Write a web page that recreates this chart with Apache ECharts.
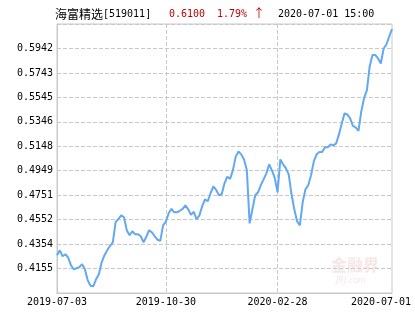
<!DOCTYPE html>
<html style="height: 100%">
<head>
    <meta charset="utf-8">
    <script type="text/javascript" src="https://cdn.jsdelivr.net/npm/echarts@6/dist/echarts.min.js"></script>
</head>
<body style="height: 100%; margin: 0; background: #fff">
<div id="container" style="width: 415px; height: 330px"></div>
<script type="text/javascript">
    var fundName = "海富精选";
    var fundCode = "[519011]";
    var lastValue = "0.6100";
    var lastChange = "1.79%";
    var lastArrow = "↑";
    var lastTime = "2020-07-01 15:00";

    // x label positions (index into navValues)
    var xLabelIndex = [0, 39, 79, 120];
    var xLabelText = ["2019-07-03", "2019-10-30", "2020-02-28", "2020-07-01"];

    // y axis: lowest tick and step as printed
    var yBase = 0.39564;
    var yStep = 0.019856;
    var yTickLabels = ["", "0.4155", "0.4354", "0.4552", "0.4751", "0.4949",
        "0.5148", "0.5346", "0.5545", "0.5743", "0.5942", ""];

    // unit net value
    var navValues = [
        0.4263, 0.4303, 0.4255, 0.4271, 0.4243, 0.4182, 0.4149, 0.4157, 0.4166, 0.4190,
        0.4149, 0.4060, 0.4016, 0.4011, 0.4068, 0.4109, 0.4206, 0.4263, 0.4303, 0.4340,
        0.4368, 0.4531, 0.4559, 0.4587, 0.4571, 0.4466, 0.4425, 0.4458, 0.4433, 0.4433,
        0.4417, 0.4368, 0.4413, 0.4466, 0.4449, 0.4417, 0.4389, 0.4380, 0.4506, 0.4536,
        0.4604, 0.4640, 0.4612, 0.4612, 0.4624, 0.4640, 0.4668, 0.4636, 0.4591, 0.4616,
        0.4555, 0.4587, 0.4660, 0.4717, 0.4701, 0.4766, 0.4823, 0.4794, 0.4750, 0.4758,
        0.4847, 0.4901, 0.4883, 0.4952, 0.5062, 0.5106, 0.5082, 0.5041, 0.4956, 0.4522,
        0.4636, 0.4750, 0.4774, 0.4831, 0.4879, 0.4928, 0.5001, 0.4952, 0.4891, 0.4774,
        0.5041, 0.5001, 0.4968, 0.4920, 0.4758, 0.4636, 0.4539, 0.4506, 0.4693, 0.4798,
        0.4831, 0.4912, 0.5025, 0.5082, 0.5102, 0.5102, 0.5139, 0.5139, 0.5163, 0.5155,
        0.5171, 0.5244, 0.5333, 0.5415, 0.5406, 0.5374, 0.5313, 0.5301, 0.5273, 0.5431,
        0.5540, 0.5601, 0.5796, 0.5889, 0.5889, 0.5861, 0.5820, 0.5942, 0.5974, 0.6039,
        0.6100
    ];

    var gridColor = "#c8c8c8";
    var monoFont = "'DejaVu Sans Mono', monospace";

    var categories = [];
    var seriesData = [];
    for (var i = 0; i < navValues.length; i++) {
        categories.push(String(i));
        seriesData.push(navValues[i] - yBase);
    }

    function isLabelIndex(index) {
        return xLabelIndex.indexOf(index) >= 0;
    }

    var myChart = echarts.init(document.getElementById("container"));
    var option = {
        backgroundColor: "#fff",
        animation: false,
        grid: {
            left: 57, right: 23, top: 24, bottom: 37,
            show: true, borderColor: gridColor, borderWidth: 1
        },
        graphic: [
            {
                type: "text", left: 55, top: 8,
                style: {
                    text: "{cn|" + fundName + "}{m|" + fundCode + "}",
                    rich: {
                        cn: {fontFamily: "'Noto Sans CJK SC'", fontSize: 12, fill: "#000"},
                        m: {fontFamily: monoFont, fontSize: 10, fill: "#000"}
                    }
                }
            },
            {
                type: "text", left: 169, top: 9,
                style: {text: lastValue, font: "10px " + monoFont, fill: "#c00000"}
            },
            {
                type: "text", left: 217, top: 9,
                style: {text: lastChange, font: "10px " + monoFont, fill: "#c00000"}
            },
            {
                type: "text", left: 253, top: 7,
                style: {text: lastArrow, font: "12px 'Noto Sans CJK SC'", fill: "#c00000"}
            },
            {
                type: "text", left: 278, top: 9,
                style: {text: lastTime, font: "10px " + monoFont, fill: "#000"}
            },
            {
                type: "text", left: 331, top: 257, z: 0,
                style: {text: "金融界", font: "bold 16px 'Noto Sans CJK SC'", fill: "#f6e6e6"}
            },
            {
                type: "text", left: 336, top: 277, z: 0,
                style: {text: "JRJ.com", font: "italic 8px 'DejaVu Sans'", fill: "#f6e6e6"}
            }
        ],
        xAxis: {
            type: "category",
            data: categories,
            boundaryGap: false,
            axisLine: {lineStyle: {color: gridColor}},
            axisTick: {show: false},
            axisLabel: {
                interval: function (index) { return isLabelIndex(index); },
                margin: 4,
                fontFamily: monoFont,
                fontSize: 10,
                color: "#000",
                formatter: function (value, index) {
                    var k = xLabelIndex.indexOf(Number(value));
                    if (k < 0) return "";
                    if (k === xLabelIndex.length - 1) return "{last|" + xLabelText[k] + "}";
                    return xLabelText[k];
                },
                rich: {
                    last: {fontFamily: monoFont, fontSize: 10, color: "#000", padding: [0, 22, 0, 0]}
                }
            },
            splitLine: {
                show: true,
                interval: function (index) {
                    return index === xLabelIndex[1] || index === xLabelIndex[2];
                },
                lineStyle: {color: gridColor, type: "dashed"}
            }
        },
        yAxis: {
            type: "value",
            min: 0,
            max: yStep * 11,
            interval: yStep,
            axisLine: {show: true, lineStyle: {color: gridColor}},
            axisTick: {show: false},
            axisLabel: {
                margin: 4,
                fontFamily: monoFont,
                fontSize: 10,
                color: "#000",
                formatter: function (value) {
                    return yTickLabels[Math.round(value / yStep)] || "";
                }
            },
            splitLine: {lineStyle: {color: gridColor, type: "dashed"}}
        },
        series: [{
            type: "line",
            data: seriesData,
            symbol: "none",
            z: 3,
            lineStyle: {color: "#62a8f2", width: 2}
        }]
    };
    myChart.setOption(option);
</script>
</body>
</html>
